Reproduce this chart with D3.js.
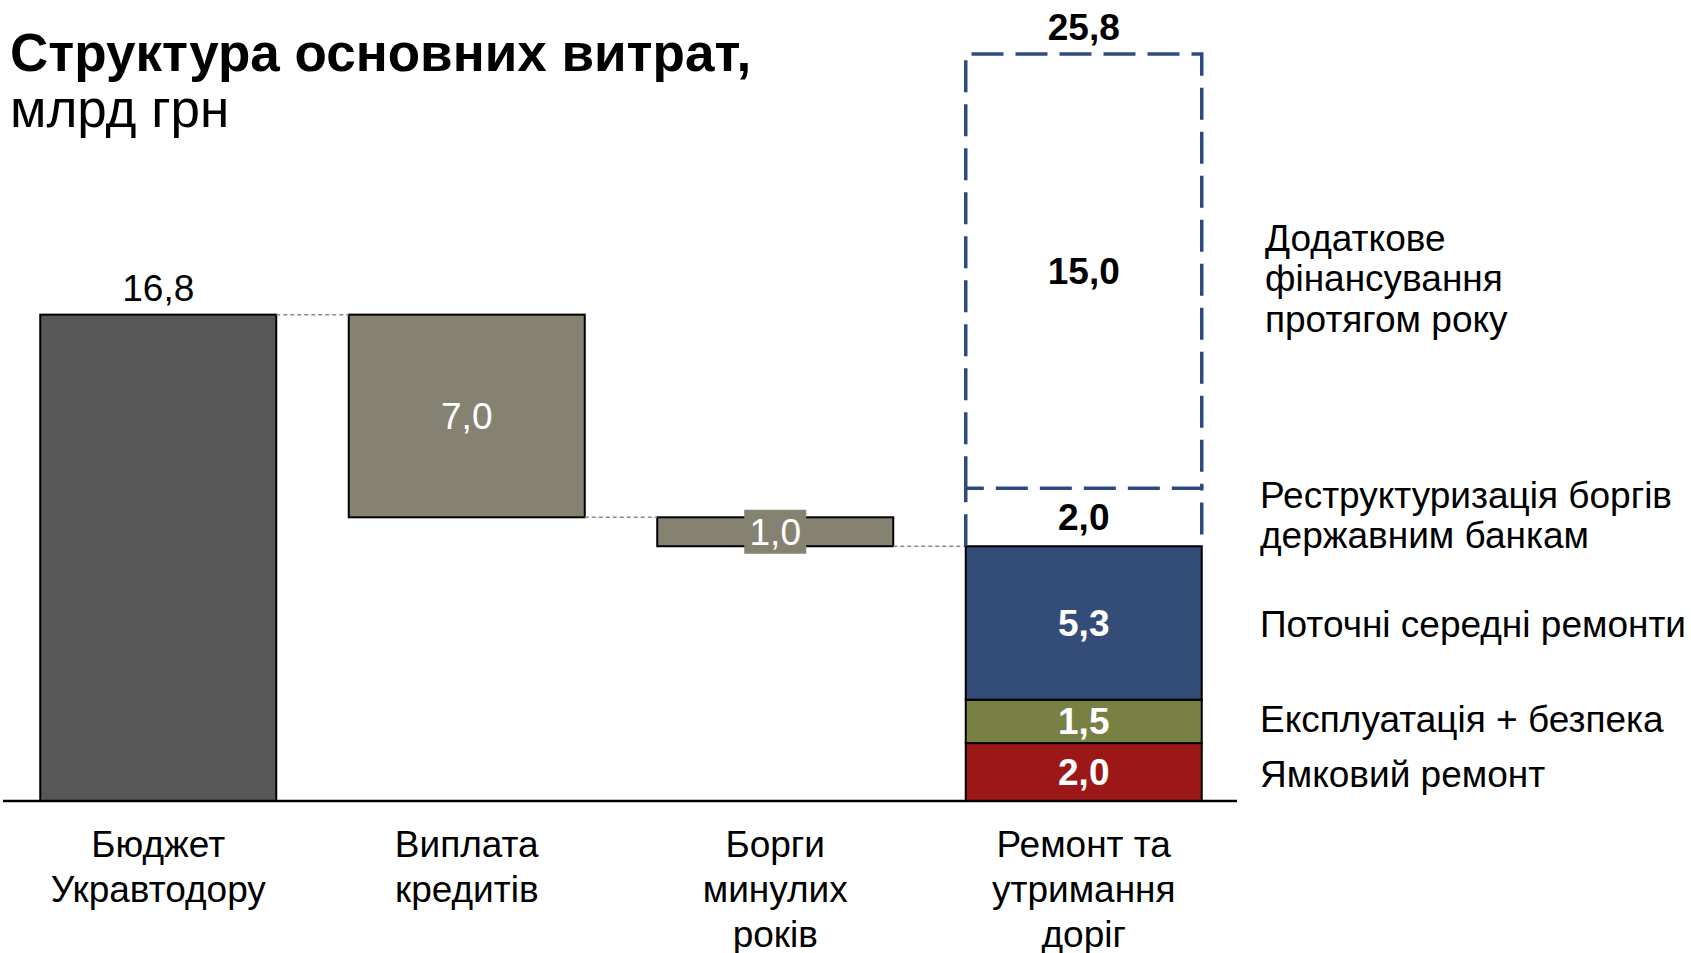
<!DOCTYPE html>
<html>
<head>
<meta charset="utf-8">
<script src="https://cdn.jsdelivr.net/npm/d3@7"></script>
<style>
  html, body { margin: 0; padding: 0; background: #ffffff; }
  svg { display: block; font-family: "Liberation Sans", Arial, sans-serif; }
</style>
</head>
<body>
<svg id="chart" width="1691" height="953"></svg>
<script>
// ---- Data ----
const categories = ["Бюджет Укравтодору", "Виплата кредитів", "Борги минулих років", "Ремонт та утримання доріг"];
const categoryLines = [["Бюджет", "Укравтодору"], ["Виплата", "кредитів"], ["Борги", "минулих", "років"], ["Ремонт та", "утримання", "доріг"]];
const budgetValue = 16.8;
const stepValues = [7.0, 1.0];            // Виплата кредитів, Борги минулих років
const fundedSegments = [2.0, 1.5, 5.3];   // Ямковий ремонт, Експлуатація + безпека, Поточні середні ремонти
const fundedNames = ["Ямковий ремонт", "Експлуатація + безпека", "Поточні середні ремонти"];
const plannedSegments = [2.0, 15.0];      // Реструктуризація, Додаткове фінансування
const plannedNames = [["Реструктуризація боргів", "державним банкам"], ["Додаткове", "фінансування", "протягом року"]];
const totalValue = 25.8;
const valueLabels = { budget: "16,8", steps: ["7,0", "1,0"], funded: ["2,0", "1,5", "5,3"], planned: ["2,0", "15,0"], total: "25,8" };

// ---- Layout ----
const svg = d3.select("#chart");
const baseY = 801;
const x = d3.scaleBand().domain(categories).range([4, 1238]).paddingInner(0.235).paddingOuter(0.1175);
const y = d3.scaleLinear().domain([0, totalValue]).range([baseY, baseY - totalValue * 28.95]);
const bw = x.bandwidth();

const colors = {
  budget: "#575757",
  step: "#868272",
  funded: ["#9c1717", "#788043", "#344c78"],
  dash: "#2f4a7c"
};
const FONT = 37;

// Title
svg.append("text").attr("x", 10).attr("y", 71)
  .attr("font-size", 53).attr("font-weight", "bold").attr("fill", "#000")
  .text("Структура основних витрат,");
svg.append("text").attr("x", 10).attr("y", 127)
  .attr("font-size", 53).attr("fill", "#000")
  .text("млрд грн");

// Budget bar
const gBars = svg.append("g");
gBars.append("rect")
  .attr("x", x(categories[0])).attr("y", y(budgetValue))
  .attr("width", bw).attr("height", y(0) - y(budgetValue))
  .attr("fill", colors.budget).attr("stroke", "#000").attr("stroke-width", 2);
svg.append("text").attr("x", x(categories[0]) + bw / 2).attr("y", y(budgetValue) - 14)
  .attr("text-anchor", "middle").attr("font-size", FONT).attr("fill", "#000")
  .text(valueLabels.budget);

// Waterfall steps
let level = budgetValue;
const stepRects = [];
stepValues.forEach((v, i) => {
  const top = level, bottom = level - v;
  stepRects.push({ cat: categories[i + 1], top, bottom, v, label: valueLabels.steps[i] });
  level = bottom;
});

// Connector lines
const connectors = [
  { from: categories[0], to: categories[1], val: budgetValue },
  { from: categories[1], to: categories[2], val: stepRects[0].bottom },
  { from: categories[2], to: categories[3], val: stepRects[1].bottom }
];
svg.append("g").selectAll("line").data(connectors).join("line")
  .attr("x1", d => x(d.from) + bw).attr("x2", d => x(d.to))
  .attr("y1", d => y(d.val)).attr("y2", d => y(d.val))
  .attr("stroke", "#8a8a8a").attr("stroke-width", 1.5).attr("stroke-dasharray", "4,3");

stepRects.forEach((d, i) => {
  gBars.append("rect")
    .attr("x", x(d.cat)).attr("y", y(d.top))
    .attr("width", bw).attr("height", y(d.bottom) - y(d.top))
    .attr("fill", colors.step).attr("stroke", "#000").attr("stroke-width", 2);
});
stepRects.forEach((d, i) => {
  const cx = x(d.cat) + bw / 2;
  const cy = (y(d.top) + y(d.bottom)) / 2;
  if (i === 1) {
    svg.append("rect").attr("x", cx - 31).attr("y", cy - 22).attr("width", 62).attr("height", 44)
      .attr("fill", colors.step);
  }
  svg.append("text").attr("x", cx).attr("y", cy).attr("dy", "0.35em")
    .attr("text-anchor", "middle").attr("font-size", FONT).attr("fill", "#fff")
    .text(d.label);
});

// Final stacked bar
const lastCat = categories[3];
let acc = 0;
const fundedData = fundedSegments.map((v, i) => { const d = { y0: acc, y1: acc + v, v, name: fundedNames[i], label: valueLabels.funded[i], color: colors.funded[i] }; acc += v; return d; });
const plannedData = plannedSegments.map((v, i) => { const d = { y0: acc, y1: acc + v, v, name: plannedNames[i], label: valueLabels.planned[i] }; acc += v; return d; });

svg.append("g").selectAll("rect").data(fundedData).join("rect")
  .attr("x", x(lastCat)).attr("y", d => y(d.y1))
  .attr("width", bw).attr("height", d => y(d.y0) - y(d.y1))
  .attr("fill", d => d.color).attr("stroke", "#000").attr("stroke-width", 2);
svg.append("g").selectAll("text").data(fundedData).join("text")
  .attr("x", x(lastCat) + bw / 2).attr("y", d => (y(d.y0) + y(d.y1)) / 2).attr("dy", "0.35em")
  .attr("text-anchor", "middle").attr("font-size", FONT).attr("font-weight", "bold").attr("fill", "#fff")
  .text(d => d.label);

// Planned (dashed)
svg.append("g").selectAll("path").data(plannedData).join("path")
  .attr("d", d => {
    const x0 = x(lastCat), x1 = x(lastCat) + bw, yt = y(d.y1), yb = y(d.y0);
    return `M${x0},${yb} L${x0},${yt} L${x1},${yt} L${x1},${yb}`;
  })
  .attr("fill", "none").attr("stroke", colors.dash).attr("stroke-width", 3.5)
  .attr("stroke-dasharray", "32,12");
svg.append("g").selectAll("text").data(plannedData).join("text")
  .attr("x", x(lastCat) + bw / 2).attr("y", d => (y(d.y0) + y(d.y1)) / 2).attr("dy", "0.35em")
  .attr("text-anchor", "middle").attr("font-size", FONT).attr("font-weight", "bold").attr("fill", "#000")
  .text(d => d.label);
svg.append("text").attr("x", x(lastCat) + bw / 2).attr("y", y(totalValue) - 14)
  .attr("text-anchor", "middle").attr("font-size", FONT).attr("font-weight", "bold").attr("fill", "#000")
  .text(valueLabels.total);

// Baseline axis
const xAxis = d3.axisBottom(x).tickSize(0).tickFormat("");
const axisG = svg.append("g").attr("transform", `translate(0,${baseY})`).call(xAxis);
axisG.select(".domain").attr("stroke", "#000").attr("stroke-width", 2.5).attr("d", "M3,0H1237");

// Category labels
categories.forEach((c, i) => {
  const t = svg.append("text").attr("text-anchor", "middle").attr("font-size", FONT).attr("fill", "#000");
  categoryLines[i].forEach((ln, j) => {
    t.append("tspan").attr("x", x(c) + bw / 2).attr("y", 857 + j * 45).text(ln);
  });
});

// Right-side segment labels
const LH = 40.5;
const rightLabels = [
  ...fundedData.map((d, i) => ({ lines: [d.name], mid: (d.y0 + d.y1) / 2, dx: 0, dy: [2, -2, 1][i] })),
  ...plannedData.map((d, i) => ({ lines: d.name, mid: (d.y0 + d.y1) / 2, dx: i === 1 ? 5 : 0, dy: i === 1 ? 7 : -2 }))
];
rightLabels.forEach(r => {
  const cy = y(r.mid) + r.dy;
  const n = r.lines.length;
  const t = svg.append("text").attr("font-size", FONT).attr("fill", "#000");
  r.lines.forEach((ln, j) => {
    t.append("tspan").attr("x", 1260 + r.dx).attr("y", cy + (j - (n - 1) / 2) * LH).attr("dy", "0.35em").text(ln);
  });
});
</script>
</body>
</html>
